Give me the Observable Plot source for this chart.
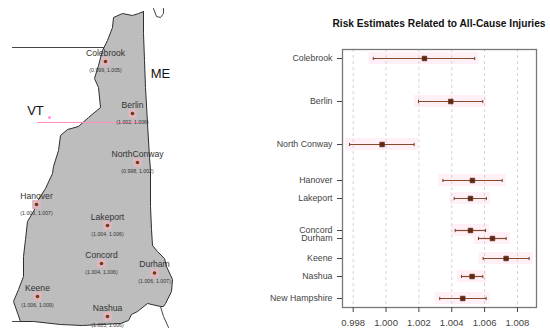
<!DOCTYPE html>
<html><head><meta charset="utf-8">
<script src="https://cdn.jsdelivr.net/npm/d3@7"></script>
<script src="https://cdn.jsdelivr.net/npm/@observablehq/plot@0.6"></script>
<style>
html,body{margin:0;padding:0;background:#fff}
#wrap{position:relative;width:550px;height:336px;overflow:hidden}
#map,#forest{position:absolute;top:0}
#map{left:0}#forest{left:235px}
#title{position:absolute;top:18px;left:301px;width:276px;text-align:center;font:bold 10.2px "Liberation Sans",Arial,sans-serif;color:#111}
</style></head><body>
<div id="wrap"><div id="map"></div><div id="forest"></div><div id="title">Risk Estimates Related to All-Cause Injuries</div></div>
<script>
// forest plot values
const names=["Colebrook","Berlin","North Conway","Hanover","Lakeport","Concord","Durham","Keene","Nashua","New Hampshire"];
const est=[1.00234,1.00394,0.99976,1.00526,1.00514,1.00514,1.00648,1.00731,1.00524,1.00467];
const lo=[0.99922,1.00198,0.99778,1.00346,1.00415,1.00421,1.00563,1.00591,1.00459,1.00327];
const hi=[1.00540,1.00589,1.00171,1.00707,1.00611,1.00606,1.00731,1.00871,1.00589,1.00609];
const rowPos=[58,101,144,180,198,230,238,258,276,298];
const xTicks=[0.998,1.000,1.002,1.004,1.006,1.008];
// map values (sites)
const sites=["Colebrook","Berlin","NorthConway","Hanover","Lakeport","Concord","Durham","Keene","Nashua"];
const siteCI=["(0.999, 1.005)","(1.002, 1.006)","(0.998, 1.002)","(1.003, 1.007)","(1.004, 1.006)","(1.004, 1.006)","(1.006, 1.007)","(1.006, 1.009)","(1.005, 1.006)"];
const siteX=[105,132,137,36,107,101,154,37,107];
const siteY=[61,113,162,204,225,263,272.5,296,316];
// map outline
const nhX=[143,143,144,145,147,149,150,150,151,152,157,164,166,172,171,165,163,160,147,137,131,128,120,100,82,60,33,20,13,18,23,23,25,27,33,38,45,52,53,58,60,67,78,88,100,98,94,98,102,107,112,113,122,132,138,143];
const nhY=[11,33,60,87,123,157,170,206,229,245,251,258,266,279,291,303,306,306,303,311,314,320,323,324,325,324,321,321,301,289,276,256,239,221,211,199,188,173,166,150,135,129,126,117,107,87,78,65,50,40,27,17,13,15,13,11];
const borderW={x:[12,103],y:[47,47]};
const borderSW={x:[12,20],y:[321,321]};
const borderSE={x:[160,163,168],y:[306,316,327]};
const hookX=[153,156,160,163,163];
const hookY=[8,16,17,13,8];
const stateLabels=[{t:"ME",x:160,y:73},{t:"VT",x:35,y:110}];
const artefact={x:[37,140],y:[122,122]};
const artefactDot={x:[49],y:[117]};

const row=names.map((n,i)=>({n,est:est[i],lo:lo[i],hi:hi[i],pos:rowPos[i]}));
const site=sites.map((n,i)=>({n,ci:siteCI[i],x:siteX[i],y:siteY[i]}));
const outline=nhX.map((x,i)=>({x,y:nhY[i]}));
const pts=o=>o.x.map((x,i)=>({x,y:o.y[i]}));
const font='"Liberation Sans",Arial,sans-serif';

document.getElementById("map").append(Plot.plot({
  width:275,height:336,margin:0,
  style:{fontFamily:font,background:"transparent"},
  x:{domain:[0,275],range:[0,275],axis:null},
  y:{domain:[0,336],range:[0,336],axis:null},
  marks:[
    Plot.line(outline,{x:"x",y:"y",fill:"#bdbdbd",stroke:"#2e2e2e",strokeWidth:1}),
    Plot.line(pts(borderW),{x:"x",y:"y",stroke:"#444",strokeWidth:1}),
    Plot.line(pts(borderSW),{x:"x",y:"y",stroke:"#444",strokeWidth:1}),
    Plot.line(pts(borderSE),{x:"x",y:"y",stroke:"#444",strokeWidth:1}),
    Plot.line(hookX.map((x,i)=>({x,y:hookY[i]})),{x:"x",y:"y",stroke:"#444",strokeWidth:1}),
    Plot.line(pts(artefact),{x:"x",y:"y",stroke:"#ff8fc0",strokeWidth:1.2}),
    Plot.dot(pts(artefactDot),{x:"x",y:"y",r:1.5,fill:"#ff8fe0"}),
    Plot.dot(site,{x:"x",y:"y",symbol:"square",r:5,fill:"#ddb6c0"}),
    Plot.dot(site,{x:"x",y:"y",r:1.8,fill:"#6e3c10"}),
    Plot.text(site,{x:"x",y:"y",text:"n",dy:-8.5,fontSize:8.6,fill:"#333"}),
    Plot.text(site,{x:"x",y:"y",text:"ci",dy:8.5,fontSize:5.2,fill:"#333"}),
    Plot.text(stateLabels,{x:"x",y:"y",text:"t",fontSize:13,fill:"#111"})
  ]
}));

document.getElementById("forest").append(Plot.plot({
  width:315,height:336,marginLeft:107,marginRight:14,marginTop:49,marginBottom:29,
  style:{fontFamily:font,background:"transparent"},
  x:{domain:[0.99735,1.00916],label:null},
  y:{domain:[49,307],range:[49,307],label:null},
  marks:[
    Plot.rect(row,{x1:d=>d.lo-0.00025,x2:d=>d.hi+0.00025,y1:d=>d.pos-6,y2:d=>d.pos+6,fill:"#fff0f7"}),
    Plot.ruleX(xTicks,{stroke:"#d4d4d4",strokeDasharray:"3,3"}),
    Plot.frame({stroke:"#777",strokeWidth:1.3}),
    Plot.axisX(xTicks,{anchor:"bottom",label:null,tickSize:5,tickPadding:7,fontSize:9.5,color:"#444",tickFormat:d3.format(".3f")}),
    Plot.axisY(rowPos,{anchor:"left",label:null,tickSize:5,tickPadding:5,fontSize:8.8,color:"#444",tickFormat:d=>names[rowPos.indexOf(d)]}),
    Plot.link(row,{x1:"lo",x2:"hi",y1:"pos",y2:"pos",stroke:"#8a4a2a",strokeWidth:1.2}),
    Plot.link(row,{x1:"lo",x2:"lo",y1:d=>d.pos-1.6,y2:d=>d.pos+1.6,stroke:"#6a4030",strokeWidth:1}),
    Plot.link(row,{x1:"hi",x2:"hi",y1:d=>d.pos-1.6,y2:d=>d.pos+1.6,stroke:"#6a4030",strokeWidth:1}),
    Plot.dot(row,{x:"est",y:"pos",symbol:"square",r:2.6,fill:"#5a2a14",stroke:"#6a2a18",strokeWidth:.7})
  ]
}));
</script></body></html>
